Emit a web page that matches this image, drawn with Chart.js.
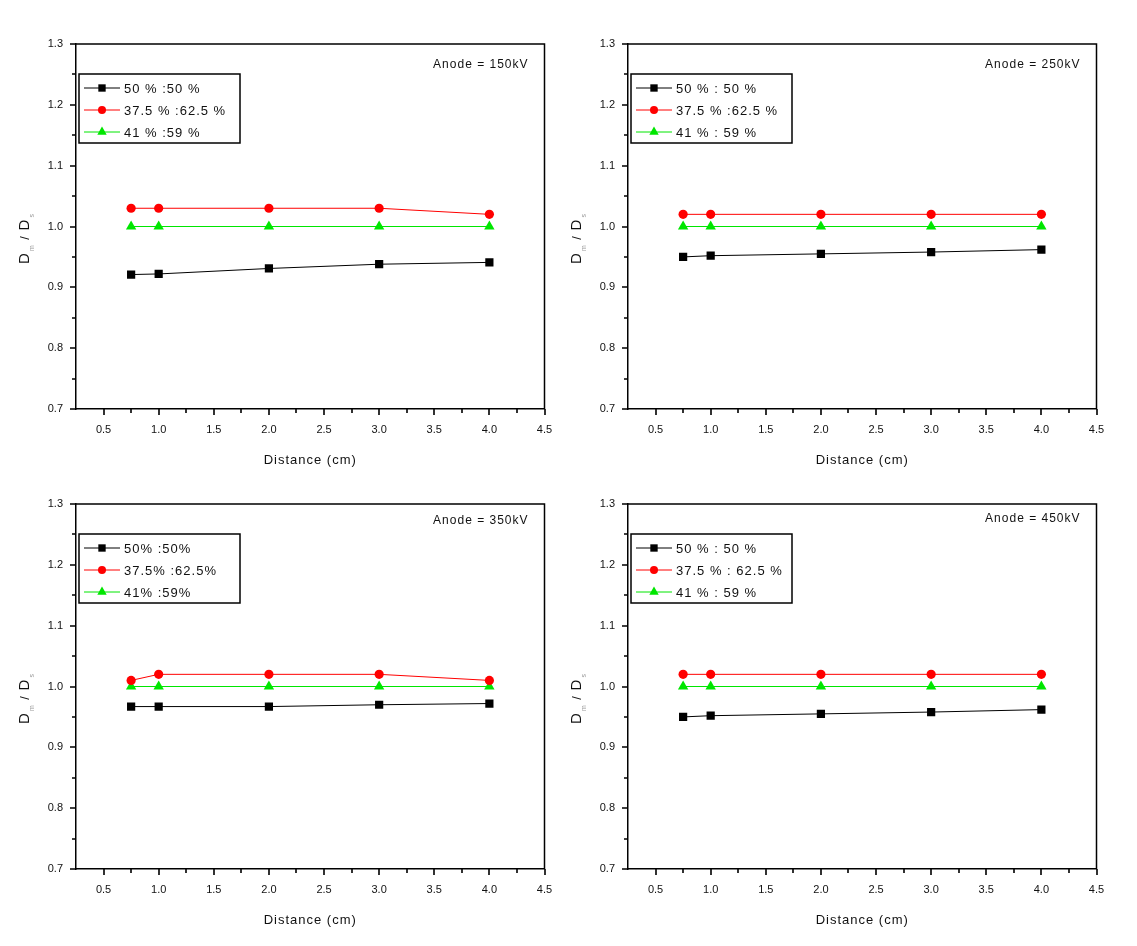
<!DOCTYPE html>
<html>
<head>
<meta charset="utf-8">
<script src="https://cdn.jsdelivr.net/npm/chart.js@4/dist/chart.umd.min.js"></script>
<style>
  body { margin: 0; background: #fff; }
  #wrap { position: relative; width: 1137px; height: 946px; }
  .panel { position: absolute; width: 568px; height: 473px; }
</style>
</head>
<body>
<div id="wrap">
  <div class="panel" style="left:0;top:0"><canvas id="c0" width="568" height="473"></canvas></div>
  <div class="panel" style="left:552px;top:0"><canvas id="c1" width="568" height="473"></canvas></div>
  <div class="panel" style="left:0;top:460px"><canvas id="c2" width="568" height="473"></canvas></div>
  <div class="panel" style="left:552px;top:460px"><canvas id="c3" width="568" height="473"></canvas></div>
</div>
<script>
// --- DATA ---
const distances = [0.75, 1.0, 2.0, 3.0, 4.0];
const xTicks = [0.5, 1.0, 1.5, 2.0, 2.5, 3.0, 3.5, 4.0, 4.5];
const yTicks = [0.7, 0.8, 0.9, 1.0, 1.1, 1.2, 1.3];

const anodeLabels = ["Anode = 150kV", "Anode = 250kV", "Anode = 350kV", "Anode = 450kV"];

const legend150 = ["50 % :50 %", "37.5 % :62.5 %", "41 % :59 %"];
const legend250 = ["50 % : 50 %", "37.5 % :62.5 %", "41 % : 59 %"];
const legend350 = ["50% :50%", "37.5% :62.5%", "41% :59%"];
const legend450 = ["50 % : 50 %", "37.5 % : 62.5 %", "41 % : 59 %"];

// 50:50 mixture
const r50_150 = [0.921, 0.922, 0.931, 0.938, 0.941];
const r50_250 = [0.950, 0.952, 0.955, 0.958, 0.962];
const r50_350 = [0.967, 0.967, 0.967, 0.970, 0.972];
const r50_450 = [0.950, 0.952, 0.955, 0.958, 0.962];
// 37.5:62.5 mixture
const r375_150 = [1.03, 1.03, 1.03, 1.03, 1.02];
const r375_250 = [1.02, 1.02, 1.02, 1.02, 1.02];
const r375_350 = [1.01, 1.02, 1.02, 1.02, 1.01];
const r375_450 = [1.02, 1.02, 1.02, 1.02, 1.02];
// 41:59 mixture
const r41_150 = [1.0, 1.0, 1.0, 1.0, 1.0];
const r41_250 = [1.0, 1.0, 1.0, 1.0, 1.0];
const r41_350 = [1.0, 1.0, 1.0, 1.0, 1.0];
const r41_450 = [1.0, 1.0, 1.0, 1.0, 1.0];

const panels = [
  {anode: anodeLabels[0], legend: legend150, data: [r50_150, r375_150, r41_150], labelY: 21},
  {anode: anodeLabels[1], legend: legend250, data: [r50_250, r375_250, r41_250], labelY: 21},
  {anode: anodeLabels[2], legend: legend350, data: [r50_350, r375_350, r41_350], labelY: 17},
  {anode: anodeLabels[3], legend: legend450, data: [r50_450, r375_450, r41_450], labelY: 15}
];

const COLORS = ["#000000", "#ff0000", "#00e600"];
const STYLES = ["rect", "circle", "triangle"];
const RADII = [5.8, 4.6, 6];
const FONT = "'Liberation Sans', Arial, sans-serif";

// minor tick positions halfway between labelled ticks
function midpoints(arr){
  const out = [];
  for(let i=0;i<arr.length-1;i++) out.push((arr[i]+arr[i+1])/2);
  return out;
}

// frame, minor ticks, axis titles, legend box and anode label
const panelDeco = {
  id: "panelDeco",
  afterDraw(chart, args, opts){
    const {ctx, chartArea: a, scales: {x, y}} = chart;
    ctx.save();
    ctx.strokeStyle = "#000";

    // top + right frame
    ctx.lineWidth = 1.5;
    ctx.beginPath();
    ctx.moveTo(a.left, a.top); ctx.lineTo(a.right, a.top); ctx.lineTo(a.right, a.bottom);
    ctx.stroke();

    // ticks
    ctx.lineWidth = 1.6;
    ctx.beginPath();
    yTicks.forEach(v => { const p = Math.round(y.getPixelForValue(v)); ctx.moveTo(a.left-6, p); ctx.lineTo(a.left, p); });
    midpoints(yTicks).forEach(v => { const p = Math.round(y.getPixelForValue(v)); ctx.moveTo(a.left-4, p); ctx.lineTo(a.left, p); });
    xTicks.forEach(v => { const p = Math.round(x.getPixelForValue(v)); ctx.moveTo(p, a.bottom); ctx.lineTo(p, a.bottom+6); });
    midpoints(xTicks).forEach(v => { const p = Math.round(x.getPixelForValue(v)); ctx.moveTo(p, a.bottom); ctx.lineTo(p, a.bottom+4); });
    ctx.stroke();

    // x title
    ctx.fillStyle = "#111";
    ctx.font = "13px " + FONT;
    ctx.letterSpacing = "1px";
    ctx.textAlign = "center";
    ctx.textBaseline = "middle";
    ctx.fillText("Distance (cm)", (a.left+a.right)/2, a.bottom+51);

    // y title  D_m / D_s
    ctx.save();
    ctx.translate(25, a.top+194);
    ctx.rotate(-Math.PI/2);
    ctx.textAlign = "left";
    ctx.letterSpacing = "0px";
    const parts = [["D", 15, 0, "#111"], ["m", 7, 7, "#999"], [" / ", 13, 0, "#111"], ["D", 15, 0, "#111"], ["s", 7, 7, "#999"]];
    let w = 0;
    parts.forEach(p => { ctx.font = p[1]+"px "+FONT; w += ctx.measureText(p[0]).width + 2; });
    let cx = -w/2;
    parts.forEach(p => {
      ctx.font = p[1]+"px "+FONT; ctx.fillStyle = p[3];
      ctx.fillText(p[0], cx, p[2]);
      cx += ctx.measureText(p[0]).width + 2;
    });
    ctx.restore();

    // anode label
    ctx.font = "12px " + FONT;
    ctx.letterSpacing = "1px";
    ctx.textAlign = "right";
    ctx.fillStyle = "#111";
    ctx.fillText(opts.anode, a.right-16, a.top+opts.labelY);

    // legend
    const lx = a.left+3, ly = a.top+30;
    ctx.strokeStyle = "#000";
    ctx.lineWidth = 1.5;
    ctx.strokeRect(lx, ly, 161, 69);
    ctx.textAlign = "left";
    ctx.font = "13px " + FONT;
    chart.data.datasets.forEach((ds, i) => {
      const ry = a.top + 44 + i*22;
      ctx.strokeStyle = ds.borderColor; ctx.lineWidth = 1;
      ctx.beginPath(); ctx.moveTo(lx+5, ry); ctx.lineTo(lx+41, ry); ctx.stroke();
      ctx.fillStyle = ds.pointBackgroundColor;
      Chart.helpers.drawPoint(ctx, {pointStyle: ds.pointStyle, radius: ds.pointRadius-0.6, rotation: 0, borderWidth: 0}, lx+23, ry);
      ctx.fillStyle = "#111";
      ctx.fillText(ds.label, lx+45, ry+1);
    });
    ctx.restore();
  }
};

panels.forEach((p, idx) => {
  const ctx = document.getElementById("c"+idx).getContext("2d");
  new Chart(ctx, {
    type: "line",
    data: {
      labels: distances,
      datasets: p.data.map((vals, i) => ({
        label: p.legend[i],
        data: distances.map((d, j) => ({x: d, y: vals[j]})),
        borderColor: COLORS[i],
        backgroundColor: COLORS[i],
        pointBackgroundColor: COLORS[i],
        pointBorderColor: COLORS[i],
        pointBorderWidth: 0,
        pointStyle: STYLES[i],
        pointRadius: RADII[i],
        borderWidth: 1,
        tension: 0,
        fill: false
      }))
    },
    options: {
      responsive: false,
      animation: false,
      devicePixelRatio: 1,
      layout: {padding: {top: 44, right: 23.5, left: 0, bottom: 0}},
      plugins: {
        legend: {display: false},
        tooltip: {enabled: false},
        panelDeco: {anode: p.anode, labelY: p.labelY}
      },
      scales: {
        x: {
          type: "linear", min: 0.25, max: 4.5,
          afterBuildTicks: s => { s.ticks = xTicks.map(v => ({value: v})); },
          afterFit: s => { s.height = 473-409; },
          grid: {display: true, drawOnChartArea: false, drawTicks: false},
          border: {display: true, color: "#000", width: 1.5},
          ticks: {padding: 14, color: "#111", font: {size: 11, family: FONT}, maxRotation: 0,
                  callback: v => v.toFixed(1)}
        },
        y: {
          type: "linear", min: 0.7, max: 1.3,
          afterBuildTicks: s => { s.ticks = yTicks.map(v => ({value: v})); },
          afterFit: s => { s.width = 76; },
          grid: {display: true, drawOnChartArea: false, drawTicks: false},
          border: {display: true, color: "#000", width: 1.5},
          ticks: {padding: 13, color: "#111", font: {size: 11, family: FONT},
                  callback: v => v.toFixed(1)}
        }
      }
    },
    plugins: [panelDeco]
  });
});
</script>
</body>
</html>
